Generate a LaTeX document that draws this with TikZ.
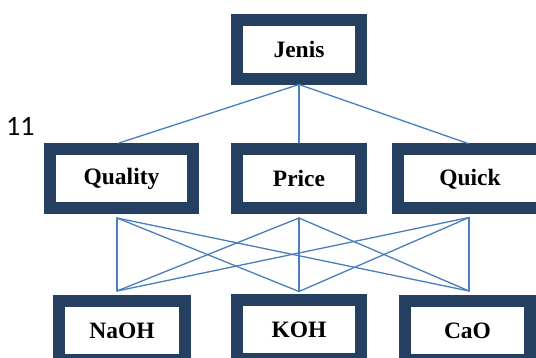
\documentclass[tikz,border=0pt]{standalone}
\usepackage{fontspec}
\newfontfamily\timesfam{Liberation Serif}
\newfontfamily\calib{Carlito}
\newcommand\boxlabel[1]{\timesfam\bfseries #1}
\usetikzlibrary{calc}
\definecolor{navy}{HTML}{243F60}
\definecolor{linkblue}{HTML}{4A7EBB}
\tikzset{
  frame/.style={draw=navy, line width=12pt, fill=white, inner sep=0pt,
    minimum height=59pt, font=\fontsize{23.5}{26}\selectfont},
  link/.style={draw=linkblue, line width=1.3pt, line cap=round, line join=round}
}
\begin{document}
\begin{tikzpicture}[x=1pt,y=-1pt]
\useasboundingbox (0,0) rectangle (536,358);
\fill[white] (0,0) rectangle (536,358);
\node[frame, minimum width=124pt] (jenis) at (299,49.5) {\boxlabel{Jenis}};
\node[frame, minimum width=143pt] (quality) at (121.5,178.5) {\boxlabel{Quality}};
\node[frame, minimum width=124pt] (price) at (299,178.5) {\boxlabel{Price}};
\node[frame, minimum width=144pt] (quick) at (470,179) {\boxlabel{Quick}};
\node[frame, minimum width=126pt] (naoh) at (122,330.5) {\boxlabel{NaOH}};
\node[frame, minimum width=124pt] (koh) at (299,330) {\boxlabel{KOH}};
\node[frame, minimum width=125pt] (cao) at (467.5,330.5) {\boxlabel{CaO}};
\node[anchor=base west, inner sep=0pt, font=\fontsize{28}{30}\selectfont] (num) at (6,136) {\calib 11};
% connection points
\coordinate (jB) at ($(jenis.south)+(0,-0.5)$);
\coordinate (qlT) at ($(quality.north)+(-2.5,0)$);
\coordinate (prT) at ($(price.north)$);
\coordinate (qkT) at ($(quick.north)+(-2,0)$);
\coordinate (qlB) at ($(quality.south)+(-4.5,4)$);
\coordinate (prB) at ($(price.south)+(0,4)$);
\coordinate (qkB) at ($(quick.south)+(-1,3)$);
\coordinate (naT) at ($(naoh.north)+(-5,-4)$);
\coordinate (koT) at ($(koh.north)+(0,-3)$);
\coordinate (caT) at ($(cao.north)+(1.5,-4)$);
\draw[link] (jB) -- (qlT);
\draw[link] (jB) -- (prT);
\draw[link] (jB) -- (qkT);
\foreach \a in {qlB,prB,qkB}{
  \foreach \b in {naT,koT,caT}{
    \draw[link] (\a) -- (\b);
  }
}
\end{tikzpicture}
\end{document}
